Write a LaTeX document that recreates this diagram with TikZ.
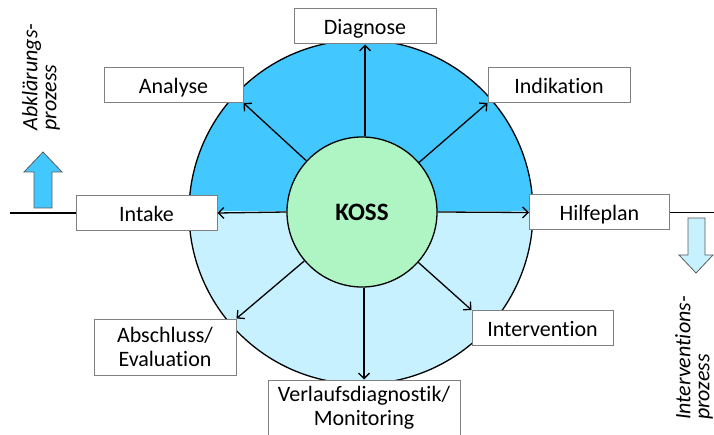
\documentclass[tikz,border=0pt]{standalone}
\usepackage{fontspec}
\setmainfont{Carlito}[RawFeature={-liga;-calt;-dlig}]
\usetikzlibrary{arrows.meta}
\definecolor{dblue}{RGB}{66,200,255}
\definecolor{lblue}{RGB}{199,241,255}
\definecolor{kgreen}{RGB}{175,245,195}
\definecolor{boxgray}{RGB}{128,128,128}
\definecolor{arrowgray}{RGB}{90,90,90}
\begin{document}
\begin{tikzpicture}[x=1pt,y=-1pt,
  box/.style={draw=boxgray,line width=1pt,fill=white,minimum height=35pt,inner sep=0pt,
    font=\fontsize{22}{24}\selectfont},
  onebox/.style={box,text height=21pt,text depth=4pt},
  twobox/.style={box,align=center,minimum height=56pt},
  ar/.style={line width=1.3pt,-{Straight Barb[length=5.5pt,width=11pt]}},
  plain/.style={line width=1.3pt},
  side/.style={rotate=90,align=left,inner sep=0pt,font=\itshape\fontsize{22}{19}\selectfont},
  blockar/.style={draw=arrowgray,line width=0.8pt}]
\useasboundingbox (0,0) rectangle (714,435);
\clip (0,0) rectangle (714,435);
% big circle halves
\begin{scope}
  \clip (0,0) rectangle (714,212);
  \fill[dblue] (361,212) circle (172);
\end{scope}
\begin{scope}
  \clip (0,212) rectangle (714,435);
  \fill[lblue] (361,212) circle (172);
\end{scope}
\draw[plain] (361,212) circle (172);
% centre
\node[circle,draw,line width=1.3pt,fill=kgreen,minimum size=150pt,inner sep=0pt,
  font=\bfseries\fontsize{25}{25}\selectfont] (kc) at (362,212) {KOSS};
% boxes
\node[onebox,minimum width=142pt] (dg) at (365,26.5) {Diagnose};
\node[onebox,minimum width=139pt] (an) at (173.5,85) {Analyse};
\node[onebox,minimum width=142pt] (ik) at (559,85) {Indikation};
\node[onebox,minimum width=141pt] (it) at (146.5,213) {Intake};
\node[onebox,minimum width=140pt] (hp) at (599.5,212.5) {Hilfeplan};
\node[onebox,minimum width=141pt] (iv) at (542.5,328) {Intervention};
\node[twobox,minimum width=142pt] (ab) at (165,347) {Abschluss/\\Evaluation};
\node[twobox,minimum width=192pt] (vl) at (364,408) {Verlaufsdiagnostik/\\Monitoring};
% arrows
\draw[ar] (kc.north -| dg.south) -- (dg.south);
\draw[ar] (kc) -- (an.south east);
\draw[ar] (kc) -- (ik.south west);
\draw[ar] (kc.west) -- (it.east);
\draw[ar] (kc.east) -- (hp.west);
\draw[ar] (kc) -- (iv.north west);
\draw[ar] (kc) -- (ab.north east);
\draw[ar] (kc.south -| vl.north) -- (vl.north);
% side lines
\coordinate (lend) at (10,213);
\coordinate (rend) at (714,212.5);
\draw[plain] (lend) -- (it.west);
\draw[plain] (hp.east) -- (rend);
% block arrows
\draw[blockar,fill=dblue] (34,208) -- (34,172) -- (24,172) -- (43,152) -- (62,172) -- (52,172) -- (52,208) -- cycle;
\draw[blockar,fill=lblue] (688,218) -- (688,255) -- (679,255) -- (696,273) -- (713,255) -- (705,255) -- (705,218) -- cycle;
% side labels
\node[side] (ap) at (41,77) {Abklärungs-\\prozess};
\node[side] (ip) at (694,358) {Interventions-\\prozess};
\end{tikzpicture}
\end{document}
